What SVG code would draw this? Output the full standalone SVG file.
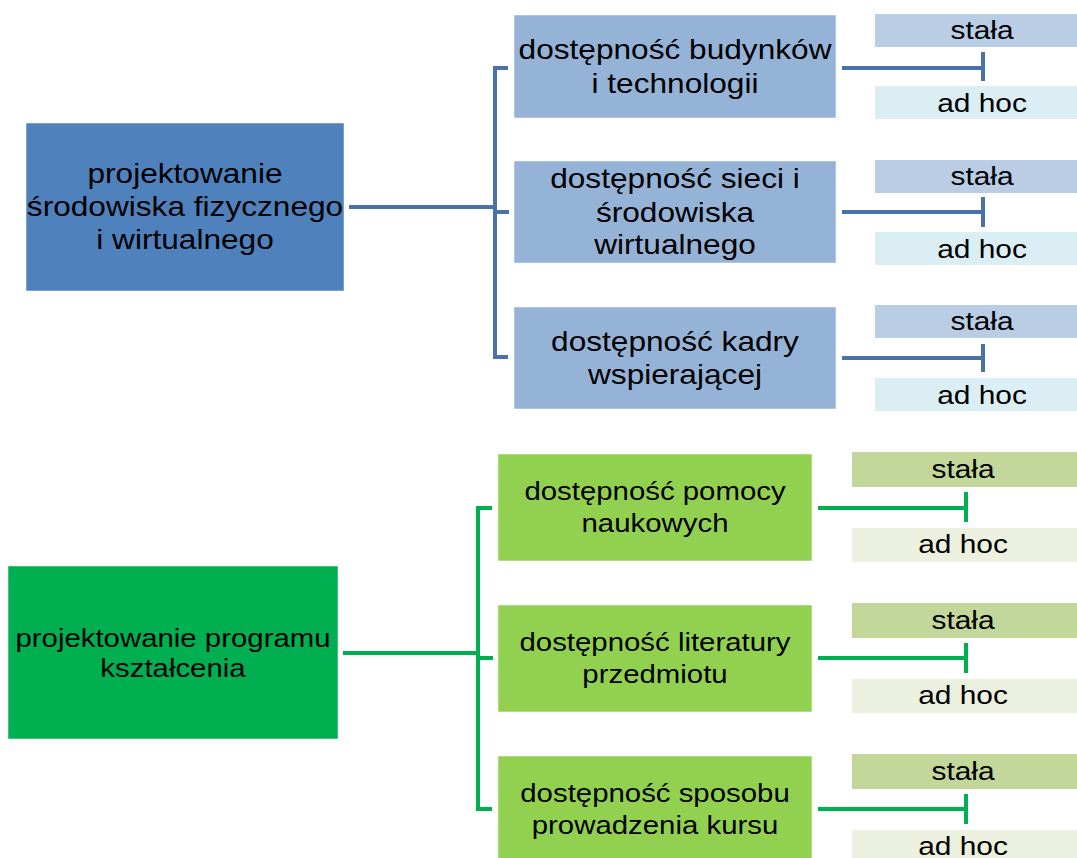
<svg xmlns="http://www.w3.org/2000/svg" width="1077" height="858" viewBox="0 0 1077 858">
<style>
text{font-family:"Liberation Sans",Arial,sans-serif;fill:#000;text-anchor:middle}
.t28{font-size:28px}
.t26{font-size:26px}
.bm{fill:#4F81BD}
.bs{fill:#95B3D7}
.bst{fill:#B9CDE5}
.bah{fill:#DBEEF4}
.gm{fill:#00B050}
.gs{fill:#92D050}
.gst{fill:#C4D79B}
.gah{fill:#EBF1DE}
.box{stroke:#ffffff;stroke-opacity:0.5;stroke-width:1}
.cb{fill:none;stroke:#4A72AA;stroke-width:4}
.cg{fill:none;stroke:#00B050;stroke-width:4}
</style>
<rect width="1077" height="858" fill="#ffffff"/>
<g id="connectors">
  <path class="cb" d="M349,207H495M508,68H495V357H508M495,212H509"/>
  <path class="cb" d="M842,68H983M983,52V81M842,212H983M983,197V227M842,358H983M983,344V372"/>
  <path class="cg" d="M343,653H478M492,508H478V809H492M478,658H493"/>
  <path class="cg" d="M818,508H966M966,492V522M818,658H966M966,643V673M818,809H966M966,794V824"/>
</g>
<g id="blue-main">
  <rect class="bm box" x="26" y="123" width="318" height="168"/>
  <text class="t28" transform="translate(185 0) scale(1.13 1)"><tspan x="0" y="183">projektowanie</tspan><tspan x="0" y="216">środowiska fizycznego</tspan><tspan x="0" y="249">i wirtualnego</tspan></text>
</g>
<g id="blue-sub-1">
  <rect class="bs box" x="514" y="15" width="322" height="103"/>
  <text class="t28" transform="translate(675 0) scale(1.13 1)"><tspan x="0" y="59">dostępność budynków</tspan><tspan x="0" y="93">i technologii</tspan></text>
</g>
<g id="blue-sub-2">
  <rect class="bs box" x="514" y="161" width="322" height="102"/>
  <text class="t28" transform="translate(675 0) scale(1.13 1)"><tspan x="0" y="188">dostępność sieci i</tspan><tspan x="0" y="222">środowiska</tspan><tspan x="0" y="254">wirtualnego</tspan></text>
</g>
<g id="blue-sub-3">
  <rect class="bs box" x="514" y="307" width="322" height="102"/>
  <text class="t28" transform="translate(675 0) scale(1.13 1)"><tspan x="0" y="351">dostępność kadry</tspan><tspan x="0" y="384">wspierającej</tspan></text>
</g>
<g id="blue-labels-1">
  <rect class="bst" x="875" y="14" width="202" height="33"/>
  <text class="t26" transform="translate(982 0) scale(1.15 1)" x="0" y="39">stała</text>
  <rect class="bah" x="875" y="86" width="202" height="33"/>
  <text class="t26" transform="translate(982 0) scale(1.15 1)" x="0" y="112">ad hoc</text>
</g>
<g id="blue-labels-2">
  <rect class="bst" x="875" y="160" width="202" height="33"/>
  <text class="t26" transform="translate(982 0) scale(1.15 1)" x="0" y="185">stała</text>
  <rect class="bah" x="875" y="232" width="202" height="33"/>
  <text class="t26" transform="translate(982 0) scale(1.15 1)" x="0" y="258">ad hoc</text>
</g>
<g id="blue-labels-3">
  <rect class="bst" x="875" y="305" width="202" height="33"/>
  <text class="t26" transform="translate(982 0) scale(1.15 1)" x="0" y="330">stała</text>
  <rect class="bah" x="875" y="378" width="202" height="33"/>
  <text class="t26" transform="translate(982 0) scale(1.15 1)" x="0" y="404">ad hoc</text>
</g>
<g id="green-main">
  <rect class="gm box" x="8" y="566" width="330" height="173"/>
  <text class="t26" transform="translate(173 0) scale(1.13 1)"><tspan x="0" y="647">projektowanie programu</tspan><tspan x="0" y="677">kształcenia</tspan></text>
</g>
<g id="green-sub-1">
  <rect class="gs box" x="498" y="454" width="314" height="107"/>
  <text class="t26" transform="translate(655 0) scale(1.13 1)"><tspan x="0" y="500">dostępność pomocy</tspan><tspan x="0" y="532">naukowych</tspan></text>
</g>
<g id="green-sub-2">
  <rect class="gs box" x="498" y="605" width="314" height="107"/>
  <text class="t26" transform="translate(655 0) scale(1.13 1)"><tspan x="0" y="651">dostępność literatury</tspan><tspan x="0" y="683">przedmiotu</tspan></text>
</g>
<g id="green-sub-3">
  <rect class="gs box" x="498" y="756" width="314" height="107"/>
  <text class="t26" transform="translate(655 0) scale(1.13 1)"><tspan x="0" y="802">dostępność sposobu</tspan><tspan x="0" y="834">prowadzenia kursu</tspan></text>
</g>
<g id="green-labels-1">
  <rect class="gst" x="852" y="452" width="225" height="35"/>
  <text class="t26" transform="translate(963 0) scale(1.15 1)" x="0" y="478">stała</text>
  <rect class="gah" x="852" y="528" width="225" height="34"/>
  <text class="t26" transform="translate(963 0) scale(1.15 1)" x="0" y="553">ad hoc</text>
</g>
<g id="green-labels-2">
  <rect class="gst" x="852" y="603" width="225" height="35"/>
  <text class="t26" transform="translate(963 0) scale(1.15 1)" x="0" y="629">stała</text>
  <rect class="gah" x="852" y="679" width="225" height="34"/>
  <text class="t26" transform="translate(963 0) scale(1.15 1)" x="0" y="704">ad hoc</text>
</g>
<g id="green-labels-3">
  <rect class="gst" x="852" y="754" width="225" height="35"/>
  <text class="t26" transform="translate(963 0) scale(1.15 1)" x="0" y="780">stała</text>
  <rect class="gah" x="852" y="830" width="225" height="34"/>
  <text class="t26" transform="translate(963 0) scale(1.15 1)" x="0" y="855">ad hoc</text>
</g>
</svg>
